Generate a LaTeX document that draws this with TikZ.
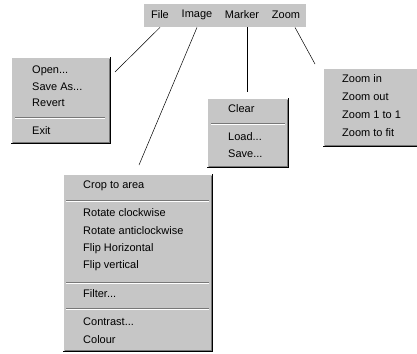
\documentclass[tikz,border=0pt]{standalone}
\usepackage{fontspec}
\setmainfont{Liberation Sans}
\usetikzlibrary{calc}
\definecolor{menugray}{RGB}{198,198,198}
\definecolor{edgedark}{RGB}{120,120,120}

\begin{document}
\begin{tikzpicture}[x=1pt, y=-1pt,
  menu/.style={fill=menugray, inner sep=0pt, anchor=north west},
  item/.style={anchor=west, inner sep=0pt, font=\fontsize{11}{13}\selectfont},
  barlabel/.style={inner sep=0pt, font=\fontsize{11}{13}\selectfont},
  hilite/.style={white, line width=1pt},
  lowlite/.style={black, line width=1pt},
  sepline/.style={edgedark, line width=0.8pt},
  link/.style={black, line width=0.5pt}
]
\useasboundingbox (0,0) rectangle (417,353);

% menu bar
\node[menu, minimum width=162, minimum height=23] (bar) at (144,4) {};
\node[barlabel] (file) at (160,15) {File};
\node[barlabel] (image) at (197,15) {Image};
\node[barlabel] (marker) at (242,15) {Marker};
\node[barlabel] (zoom) at (286,15) {Zoom};

% drop-down menus
\node[menu, minimum width=99, minimum height=86] (filemenu) at (11,57) {};
\node[menu, minimum width=81, minimum height=69] (markermenu) at (207,98) {};
\node[menu, minimum width=100, minimum height=78] (zoommenu) at (323,68) {};
\node[menu, minimum width=149, minimum height=177] (imagemenu) at (63,174) {};
\foreach \m in {filemenu,markermenu,zoommenu,imagemenu} {
  \draw[hilite] ([yshift=-0.5pt]\m.south west) |- ([xshift=-0.5pt]\m.north east);
  \draw[lowlite] (\m.south west) -| (\m.north east);
  \draw[edgedark, line width=0.8pt] ([shift={(1.5,-1.5)}]\m.south west) -| ([shift={(-1.5,1.5)}]\m.north east);
}

% items
\foreach \y/\t in {71/{Open...}, 87/{Save As...}, 103/Revert, 131/Exit}
  \node[item] at (32,\y) {\t};
\foreach \y/\t in {109/Clear, 137/{Load...}, 154/{Save...}}
  \node[item] at (228,\y) {\t};
\foreach \y/\t in {79/Zoom in, 97/Zoom out, 115/Zoom 1 to 1, 133/Zoom to fit}
  \node[item] at (342,\y) {\t};
\foreach \y/\t in {186/Crop to area, 213/Rotate clockwise, 231/Rotate anticlockwise,
  249/Flip Horizontal, 266/Flip vertical, 294/{Filter...}, 322/{Contrast...}, 340/Colour}
  \node[item] at (83,\y) {\t};

% separators
\foreach \y/\a/\b in {117/15/105, 123/211/285, 200/66/209, 282/66/209, 308/66/209} {
  \draw[sepline] (\a,\y) -- (\b,\y);
  \draw[white, line width=0.8pt] (\a,\y+1) -- (\b,\y+1);
}

% connectors
\coordinate (fileend) at (115,72);
\coordinate (imageend) at (139,165);
\coordinate (markerend) at (247,92);
\coordinate (zoomend) at (315,64);
\draw[link] (file |- bar.south) -- (fileend);
\draw[link] (image |- bar.south) -- (imageend);
\draw[link] ($(marker |- bar.south)+(5,0)$) -- (markerend);
\draw[link] ($(zoom |- bar.south)+(9,0)$) -- (zoomend);
\end{tikzpicture}
\end{document}
